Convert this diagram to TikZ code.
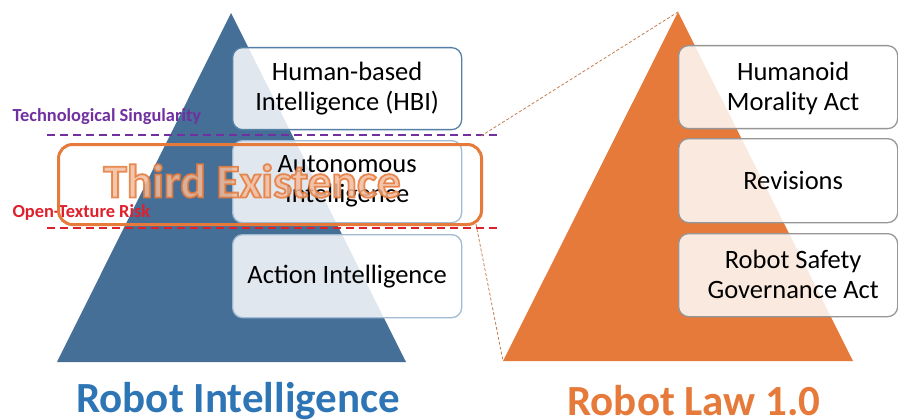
\documentclass[tikz,border=0pt]{standalone}
\usepackage{fontspec}
\setmainfont{Carlito}
\usetikzlibrary{positioning}
\definecolor{intblue}{RGB}{69,111,151}
\definecolor{titleblue}{RGB}{46,117,182}
\definecolor{lawor}{RGB}{229,122,59}
\definecolor{singpurple}{RGB}{112,48,160}
\definecolor{riskred}{RGB}{222,32,44}
\definecolor{hbiedge}{RGB}{84,128,168}
\definecolor{lowedge}{RGB}{160,186,210}
\definecolor{lawedge}{RGB}{150,150,150}
% law box text sits a little right of (and below) the box centre
\newcommand\lawlines[1]{\hspace*{10pt}\raisebox{0pt}[\dimexpr\height+5pt\relax][\depth]{\begin{tabular}{@{}c@{}}#1\end{tabular}}}
\begin{document}
\begin{tikzpicture}[x=1pt,y=-1pt,
  levelbox/.style={draw=#1, line width=1.3pt, rounded corners=10pt, fill=white,
    fill opacity=0.84, text opacity=1, minimum width=229pt, minimum height=82pt,
    inner sep=0pt, align=center, anchor=north west,
    font=\fontsize{26.5}{30}\selectfont},
  lawbox/.style={levelbox=lawedge, minimum width=219pt, minimum height=83pt},
  edgelabel/.style={anchor=west, text=#1, font=\bfseries\fontsize{18.4}{22}\selectfont},
  limitline/.style={draw=#1, line width=1.6pt, dash pattern=on 8pt off 5pt},
  zoomline/.style={draw=lawor!70!gray, line width=0.8pt, dash pattern=on 3pt off 2pt},
  title/.style={text=#1, font=\bfseries\fontsize{43}{48}\selectfont}]

\useasboundingbox (0,0) rectangle (898,420);

% pyramids
\fill[intblue] (231,13) -- (406,362) -- (57,362) -- cycle;
\coordinate (lawtop) at (678,12);
\coordinate (lawleft) at (503,361);
\fill[lawor] (lawtop) -- (853,361) -- (lawleft) -- cycle;

% levels of robot intelligence
\node[levelbox=hbiedge] (hbi) at (232,47) {Human-based\\Intelligence (HBI)};
\node[levelbox=lowedge] (autonomous) at (232,140) {Autonomous\\Intelligence};
\node[levelbox=lowedge, minimum height=83pt] (action) at (232,234) {Action Intelligence};

% levels of robot law
\node[lawbox] (morality) at (678,45) {\lawlines{Humanoid\\Morality Act}};
\node[lawbox, minimum height=84pt] (revisions) at (678,138) {\lawlines{Revisions}};
\node[lawbox] (safety) at (678,233) {\lawlines{Robot Safety\\Governance Act}};

% limits
\draw[limitline=singpurple] (47,135) -- (500,135);
\draw[limitline=riskred] (47,228) -- (500,228);
\node[edgelabel=singpurple] (singularity) at (9,117) {Technological Singularity};
\node[edgelabel=riskred] (risk) at (9,212) {Open-Texture Risk};

% third existence
\node[draw=lawor, line width=3pt, rounded corners=14pt, minimum width=423pt,
  minimum height=80pt, anchor=north west] (thirdbox) at (57,143) {};
\node[text=lawor!50, text opacity=0.85, font=\bfseries\fontsize{47.5}{56}\selectfont]
  (third) at (252,181) {\special{pdf:literal direct 2 Tr 1.8 w 0.898 0.478 0.231 RG}Third Existence\special{pdf:literal direct 0 Tr}};

% zoom lines
\coordinate (zoomtop) at (481,136);
\coordinate (zoombot) at (476,224);
\draw[zoomline] (zoomtop) -- (lawtop);
\draw[zoomline] (zoombot) -- (lawleft);

% titles
\node[title=titleblue] (inttitle) at (238,401) {Robot Intelligence};
\node[title=lawor] (lawtitle) at (694,401) {Robot Law 1.0};

\end{tikzpicture}
\end{document}
